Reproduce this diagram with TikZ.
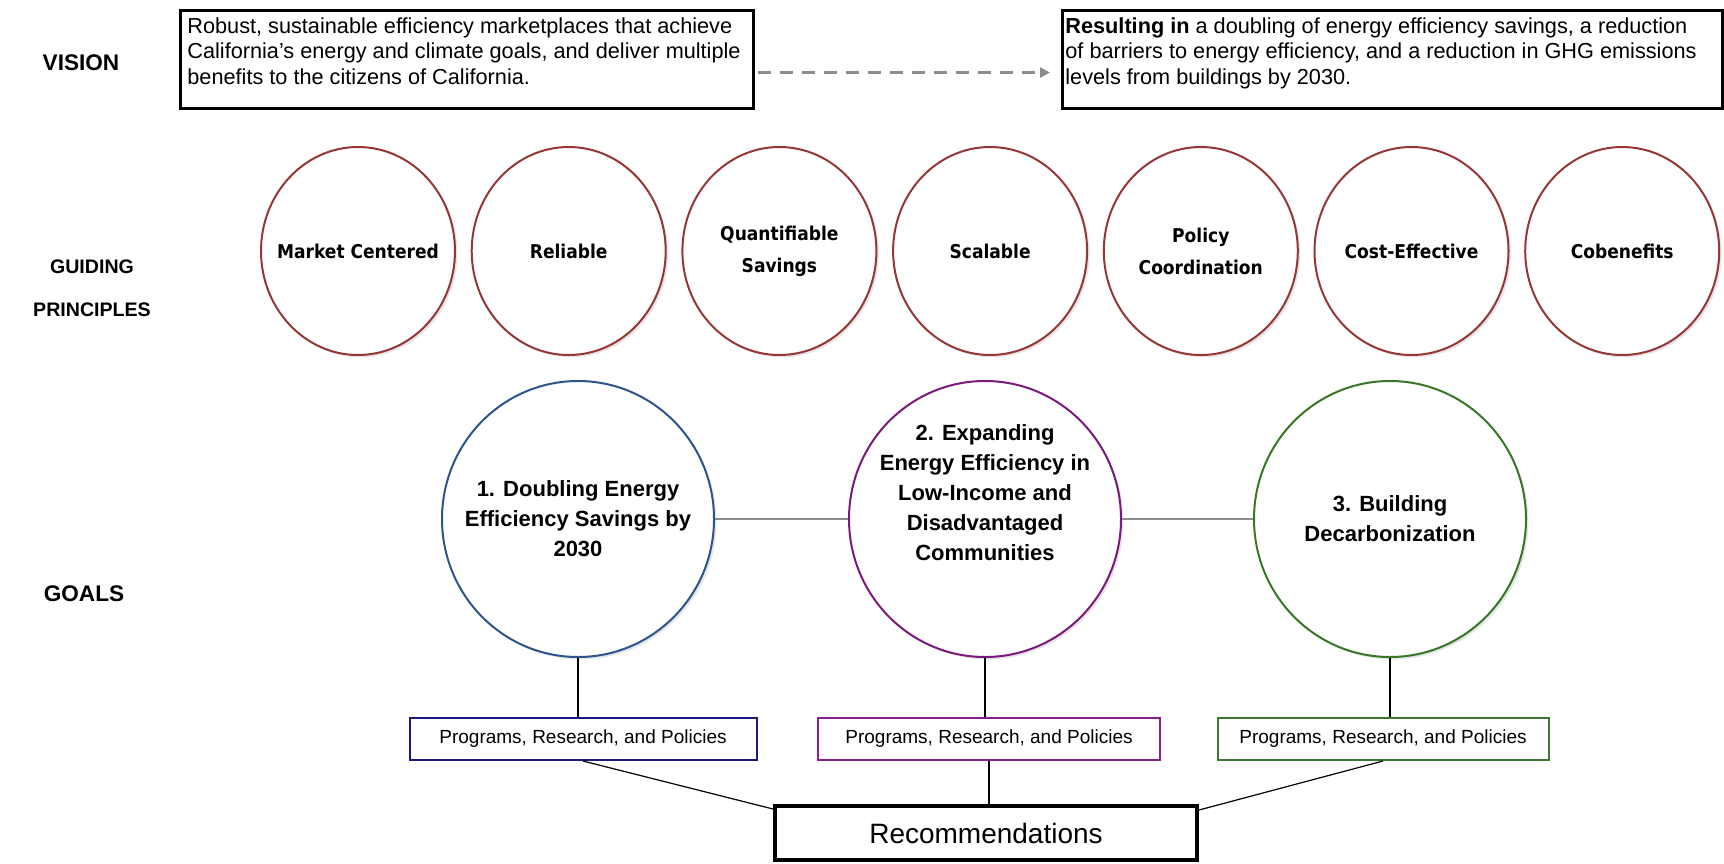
\documentclass[tikz,border=0pt]{standalone}
\usepackage{fontspec}
\setmainfont{Liberation Sans}
\newfontfamily\princfont{DejaVu Sans Condensed}
\usetikzlibrary{shapes.geometric,shadows,arrows.meta}
\definecolor{princred}{RGB}{149,55,53}
\definecolor{goalblue}{RGB}{46,84,140}
\definecolor{goalpurple}{RGB}{122,26,122}
\definecolor{goalgreen}{RGB}{56,118,40}
\definecolor{boxnavy}{RGB}{25,25,125}
\definecolor{boxpurple}{RGB}{140,30,140}
\definecolor{boxgreen}{RGB}{60,120,50}
\definecolor{linkgray}{RGB}{140,140,140}
\tikzset{>=Stealth,
  rowlabel/.style={font=\fontsize{11.3}{13}\selectfont\bfseries, align=center},
  visionbox/.style={draw, line width=1.5pt, minimum height=49pt, inner sep=0pt, anchor=north west},
  visiontext/.style={align=left, inner sep=0pt, anchor=north west, font=\fontsize{10.85}{12.9}\selectfont},
  dasharrow/.style={draw=linkgray, line width=1.5pt, dash pattern=on 6.5pt off 4.5pt, -{Triangle[length=5pt,width=5pt]}},
  softshadow/.style={drop shadow={shadow xshift=1.2pt, shadow yshift=-1.2pt, fill=black!20, opacity=0.5}},
  principle/.style={ellipse, draw=princred, line width=1pt, fill=white, softshadow, minimum width=97pt, minimum height=104pt, inner xsep=-10pt, inner ysep=0pt, align=center, font=\princfont\bfseries\fontsize{9.5}{16}\selectfont},
  goal/.style={ellipse, draw=#1, line width=1pt, fill=white, softshadow, minimum width=136pt, minimum height=138pt, inner xsep=-15pt, inner ysep=0pt, align=center, font=\fontsize{11}{15}\selectfont\bfseries},
  goaltext/.style={align=center, font=\fontsize{11}{15}\selectfont\bfseries},
  goallink/.style={draw=linkgray, line width=1pt},
  progbox/.style={draw=#1, line width=1pt, minimum height=21pt, font=\fontsize{9.5}{11}\selectfont},
  recbox/.style={draw, line width=2pt, minimum width=211pt, minimum height=27pt, font=\fontsize{14}{16}\selectfont},
  thinlink/.style={draw, line width=0.6pt}
}
\begin{document}
\begin{tikzpicture}[x=0.5pt,y=-0.5pt]
\useasboundingbox (0,0) rectangle (1724,863);

\node[rowlabel] (vision) at (81,63) {VISION};
\node[rowlabel, font=\fontsize{9.8}{12}\selectfont\bfseries] (guiding) at (92,288) {GUIDING\\[9.5pt]PRINCIPLES};
\node[rowlabel] (goals) at (84,594) {GOALS};

\node[visionbox, minimum width=286.5pt] (visL) at (179,9) {};
\node[visiontext] (visLtext) at ([shift={(4pt,-4pt)}]visL.north west)
  {Robust, sustainable efficiency marketplaces that achieve\\California's energy and climate goals, and deliver multiple\\benefits to the citizens of California.};
\node[visionbox, minimum width=330pt] (visR) at (1061,9) {};
\node[visiontext] (visRtext) at ([shift={(2pt,-4pt)}]visR.north west)
  {\textbf{Resulting in} a doubling of energy efficiency savings, a reduction\\of barriers to energy efficiency, and a reduction in GHG emissions\\levels from buildings by 2030.};
\draw[dasharrow, shorten <=1.5pt, shorten >=5.5pt] ([yshift=-6.5pt]visL.east) -- ([yshift=-6.5pt]visR.west);

\foreach \name [count=\i from 0] in {Market Centered, Reliable, {Quantifiable\\Savings}, Scalable, {Policy\\Coordination}, Cost-Effective, Cobenefits}
  \node[principle] (prin\i) at ({358+210.7*\i},251) {\name};

\node[goal=goalblue] (g1) at (578,519) {1. Doubling Energy\\Efficiency Savings by\\2030};
\node[goal=goalpurple, label={[goaltext, yshift=13pt]center:{2. Expanding\\Energy Efficiency in\\Low-Income and\\Disadvantaged\\Communities}}] (g2) at (985,519) {};
\node[goal=goalgreen] (g3) at (1390,519) {3. Building\\Decarbonization};
\draw[goallink] (g1) -- (g2);
\draw[goallink] (g2) -- (g3);

\node[progbox=boxnavy, minimum width=173.5pt] (prog1) at (583,739) {Programs, Research, and Policies};
\node[progbox=boxpurple, minimum width=171pt] (prog2) at (989,739) {Programs, Research, and Policies};
\node[progbox=boxgreen, minimum width=165.5pt] (prog3) at (1383,739) {Programs, Research, and Policies};
\draw[thinlink] (g1.south) -- (g1.south |- prog1.north);
\draw[thinlink] (g2.south) -- (g2.south |- prog2.north);
\draw[thinlink] (g3.south) -- (g3.south |- prog3.north);

\node[recbox] (rec) at (986,833) {Recommendations};
\draw[thinlink] (prog1.south) -- ([yshift=-2.5pt]rec.north west);
\draw[thinlink] (prog2.south) -- (prog2.south |- rec.north);
\draw[thinlink] (prog3.south) -- ([yshift=-3pt]rec.north east);
\end{tikzpicture}
\end{document}
